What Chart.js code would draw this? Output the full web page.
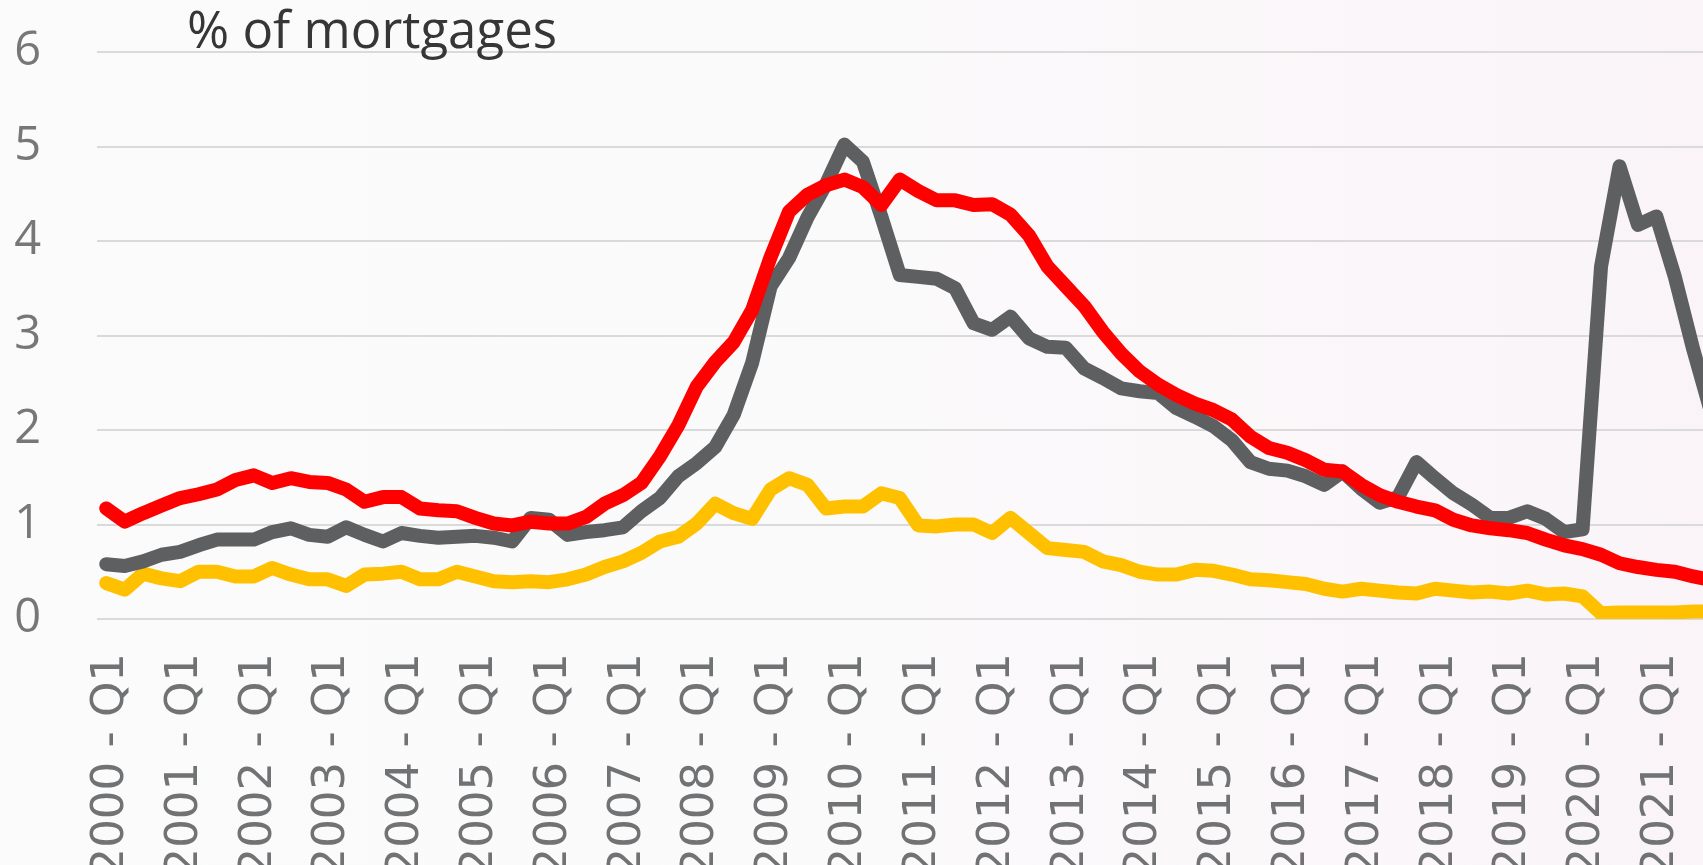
<!DOCTYPE html>
<html>
<head>
<meta charset="utf-8">
<script src="https://cdn.jsdelivr.net/npm/chart.js@4.4.1/dist/chart.umd.min.js"></script>
<style>
  html, body { margin: 0; padding: 0; overflow: hidden; background: #fbfafb; }
  #wrap { position: relative; width: 1724px; height: 865px; }
  canvas { display: block; }
</style>
</head>
<body>
<div id="wrap"><canvas id="line-chart" width="1724" height="865"></canvas></div>
<script>
// quarters 2000 Q1 .. 2021 Q4
const years = [2000, 2001, 2002, 2003, 2004, 2005, 2006, 2007, 2008, 2009, 2010,
  2011, 2012, 2013, 2014, 2015, 2016, 2017, 2018, 2019, 2020, 2021];
const quarterNames = ["Q1", "Q2", "Q3", "Q4"];
const quarterLabels = [];
years.forEach((y) => quarterNames.forEach((q) => quarterLabels.push(y + " - " + q)));

const yTicks = [0, 1, 2, 3, 4, 5, 6];

// % of mortgages
const greySeries = [
  0.58, 0.56, 0.61, 0.68, 0.71, 0.78, 0.84, 0.84, 0.84, 0.92, 0.96, 0.89,
  0.87, 0.97, 0.89, 0.82, 0.91, 0.88, 0.86, 0.87, 0.88, 0.86, 0.82, 1.07,
  1.05, 0.89, 0.92, 0.94, 0.97, 1.14, 1.28, 1.51, 1.65, 1.82, 2.16, 2.71,
  3.52, 3.82, 4.25, 4.60, 5.02, 4.84, 4.26, 3.64, 3.62, 3.60, 3.50, 3.13,
  3.06, 3.20, 2.97, 2.88, 2.87, 2.65, 2.55, 2.44, 2.41, 2.39, 2.23, 2.14,
  2.04, 1.89, 1.66, 1.59, 1.57, 1.51, 1.42, 1.56, 1.38, 1.23, 1.29, 1.66,
  1.49, 1.33, 1.21, 1.07, 1.07, 1.14, 1.06, 0.92, 0.95, 3.73, 4.79, 4.17,
  4.26, 3.62, 2.85, 2.16
];

const redSeries = [
  1.17, 1.03, 1.12, 1.20, 1.28, 1.32, 1.37, 1.47, 1.52, 1.44, 1.49, 1.45,
  1.44, 1.37, 1.24, 1.29, 1.29, 1.17, 1.15, 1.14, 1.07, 1.01, 0.99, 1.03,
  1.01, 1.01, 1.08, 1.22, 1.31, 1.44, 1.72, 2.05, 2.46, 2.72, 2.93, 3.27,
  3.83, 4.31, 4.49, 4.59, 4.65, 4.57, 4.38, 4.65, 4.53, 4.43, 4.43, 4.38,
  4.39, 4.28, 4.06, 3.73, 3.52, 3.31, 3.04, 2.81, 2.62, 2.48, 2.37, 2.28,
  2.21, 2.11, 1.93, 1.81, 1.76, 1.68, 1.58, 1.56, 1.42, 1.31, 1.24, 1.19,
  1.15, 1.05, 0.99, 0.96, 0.94, 0.91, 0.84, 0.78, 0.74, 0.68, 0.59, 0.55,
  0.52, 0.50, 0.45, 0.41
];

const yellowSeries = [
  0.38, 0.31, 0.48, 0.43, 0.40, 0.50, 0.50, 0.45, 0.45, 0.54, 0.47, 0.42,
  0.42, 0.35, 0.47, 0.48, 0.50, 0.42, 0.42, 0.50, 0.45, 0.40, 0.39, 0.40,
  0.39, 0.42, 0.47, 0.55, 0.61, 0.70, 0.82, 0.87, 1.01, 1.22, 1.12, 1.06,
  1.37, 1.49, 1.42, 1.17, 1.19, 1.19, 1.33, 1.28, 0.99, 0.98, 1.00, 1.00,
  0.91, 1.07, 0.91, 0.75, 0.73, 0.71, 0.61, 0.57, 0.50, 0.47, 0.47, 0.52,
  0.51, 0.47, 0.42, 0.41, 0.39, 0.37, 0.32, 0.29, 0.32, 0.30, 0.28, 0.27,
  0.32, 0.30, 0.28, 0.29, 0.27, 0.30, 0.26, 0.27, 0.24, 0.06, 0.07, 0.07,
  0.07, 0.07, 0.08, 0.08
];

const titleText = "% of mortgages";

const lineStyle = {
  borderWidth: 14,
  pointRadius: 0,
  pointHoverRadius: 0,
  tension: 0,
  borderJoinStyle: "round",
  borderCapStyle: "round",
  fill: false,
};

// faint background, pinker to the right like the original
const backgroundPlugin = {
  id: "bg",
  beforeDraw: (chart) => {
    const { ctx, width, height } = chart;
    const g = ctx.createLinearGradient(0, 0, width, 0);
    g.addColorStop(0, "#fbfbfb");
    g.addColorStop(0.5, "#fbfafb");
    g.addColorStop(1, "#faf4f8");
    ctx.save();
    ctx.fillStyle = g;
    ctx.fillRect(0, 0, width, height);
    ctx.restore();
  },
};

// title sits over the plot, like the text box in the original
const titlePlugin = {
  id: "titleBox",
  afterDraw: (chart) => {
    const ctx = chart.ctx;
    ctx.save();
    ctx.font = '51px "Open Sans"';
    ctx.fillStyle = "#363636";
    ctx.textBaseline = "alphabetic";
    ctx.fillText(titleText, chart.chartArea.left + 90, chart.chartArea.top - 4);
    ctx.restore();
  },
};

const config = {
  type: "line",
  data: {
    labels: quarterLabels,
    datasets: [
      { label: "Red", data: redSeries, borderColor: "#ff0000", backgroundColor: "#ff0000", ...lineStyle },
      { label: "Grey", data: greySeries, borderColor: "#5e5f61", backgroundColor: "#5e5f61", ...lineStyle },
      { label: "Yellow", data: yellowSeries, borderColor: "#ffc000", backgroundColor: "#ffc000", ...lineStyle },
    ],
  },
  options: {
    responsive: false,
    animation: false,
    devicePixelRatio: 1,
    layout: { padding: { top: 52, right: 3, left: 0, bottom: 0 } },
    plugins: {
      legend: { display: false },
      tooltip: { enabled: false },
      title: { display: false },
    },
    scales: {
      x: {
        type: "category",
        offset: true,
        grid: { display: false, drawTicks: false },
        border: { display: false },
        ticks: {
          autoSkip: false,
          minRotation: 90,
          maxRotation: 90,
          padding: 34,
          labelOffset: 5,
          color: "#707274",
          font: { family: "DejaVu Sans", size: 45 },
          callback: function (value, index) {
            return index % 4 === 0 ? quarterLabels[index] : "";
          },
        },
        afterFit: (scale) => {
          scale.height = 246;
          scale.paddingLeft = 0;
          scale.paddingRight = 0;
        },
      },
      y: {
        min: yTicks[0],
        max: yTicks[yTicks.length - 1],
        afterBuildTicks: (scale) => {
          scale.ticks = yTicks.map((v) => ({ value: v }));
        },
        grid: { color: "#dadada", lineWidth: 2, drawTicks: false },
        border: { display: false },
        ticks: {
          padding: 56,
          color: "#777777",
          font: { family: "Open Sans", size: 47 },
        },
        afterFit: (scale) => {
          scale.width = 97;
          scale.paddingTop = 0;
          scale.paddingBottom = 0;
        },
      },
    },
  },
  plugins: [backgroundPlugin, titlePlugin],
};

const myChart = new Chart(document.getElementById("line-chart"), config);
</script>
</body>
</html>
